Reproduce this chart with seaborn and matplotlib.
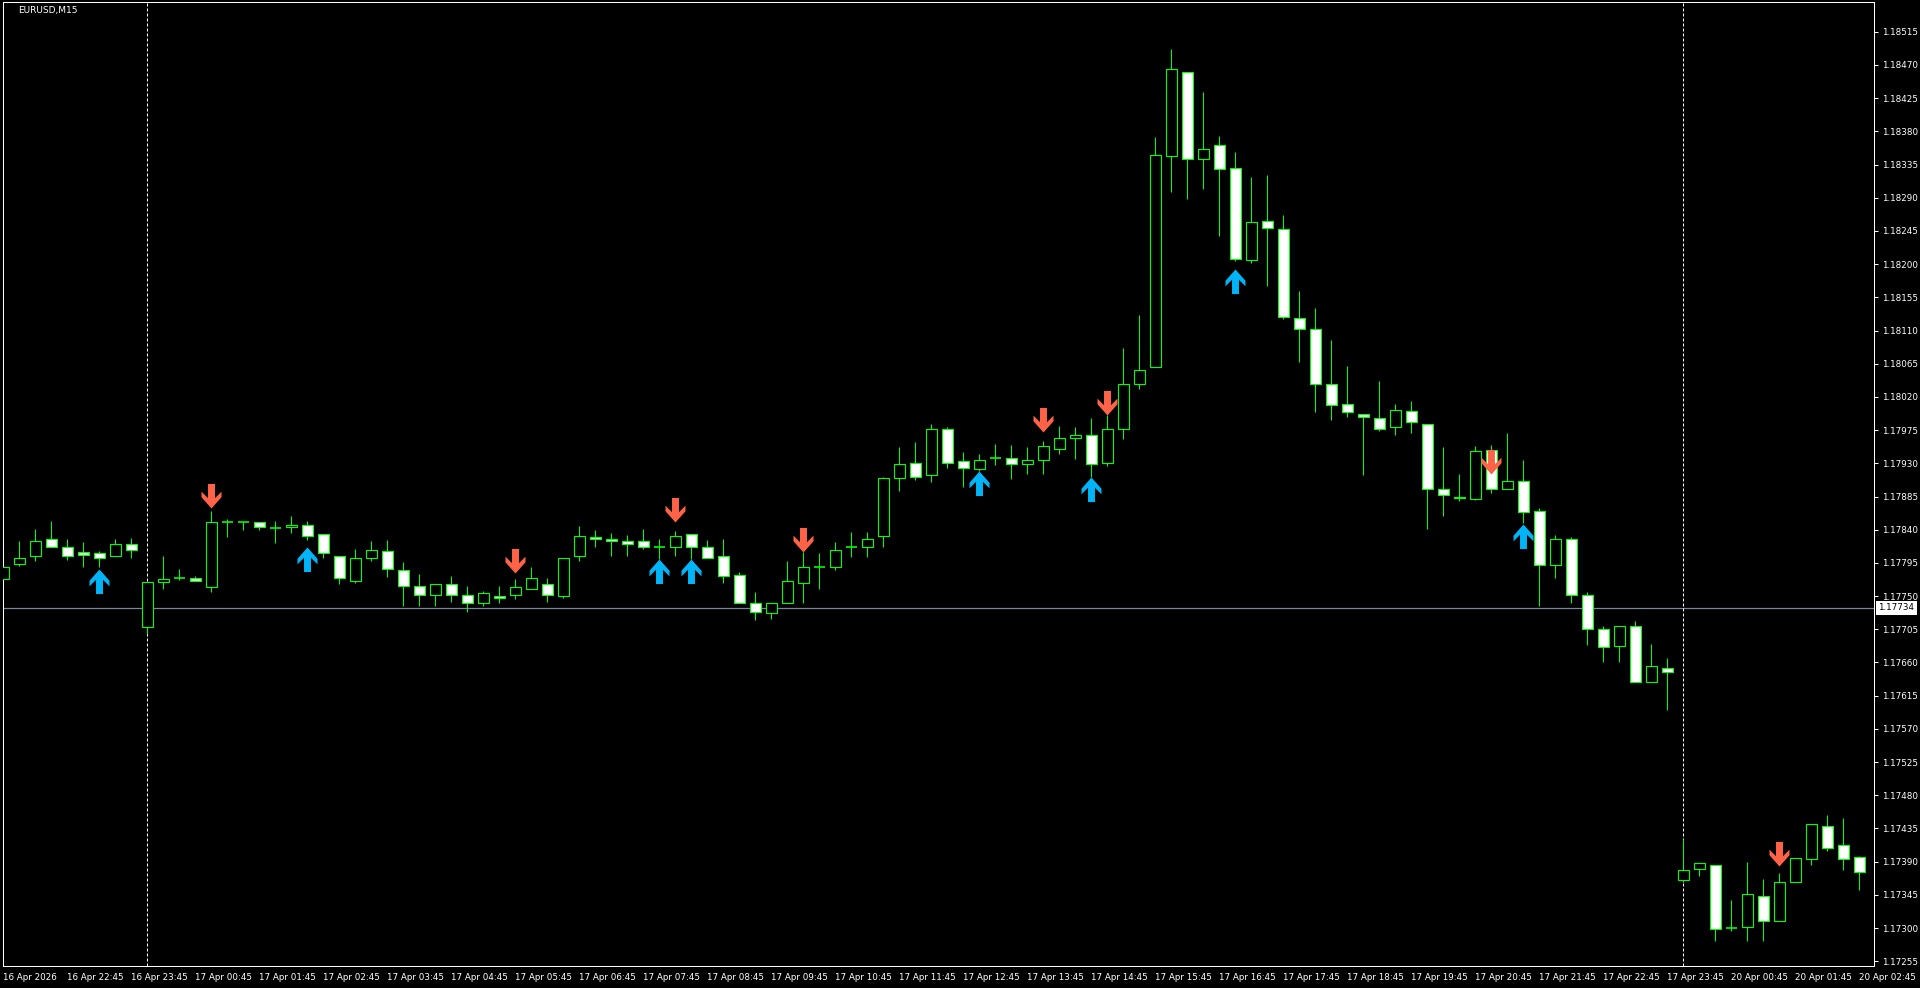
import numpy as np
import pandas as pd
import seaborn as sns
from matplotlib import pyplot as plt
from matplotlib.path import Path

# EURUSD M15 bars: 16 Apr 21:45 .. 17 Apr 23:45, then 20 Apr 00:00 .. 02:45
opens = [1.17773, 1.17793, 1.17804, 1.17828, 1.17817, 1.17810, 1.17809, 1.17804, 1.17820, 1.17708,
         1.17769, 1.17774, 1.17774, 1.17762, 1.17850, 1.17850, 1.17850, 1.17842, 1.17843, 1.17847,
         1.17834, 1.17805, 1.17770, 1.17801, 1.17811, 1.17786, 1.17763, 1.17752, 1.17767, 1.17751,
         1.17741, 1.17750, 1.17751, 1.17759, 1.17767, 1.17750, 1.17804, 1.17830, 1.17827, 1.17824,
         1.17824, 1.17817, 1.17816, 1.17834, 1.17817, 1.17804, 1.17778, 1.17740, 1.17727, 1.17741,
         1.17768, 1.17790, 1.17790, 1.17816, 1.17817, 1.17831, 1.17910, 1.17931, 1.17914, 1.17977,
         1.17933, 1.17922, 1.17937, 1.17937, 1.17929, 1.17935, 1.17950, 1.17964, 1.17969, 1.17930,
         1.17976, 1.18038, 1.18061, 1.18346, 1.18461, 1.18343, 1.18361, 1.18330, 1.18205, 1.18258,
         1.18247, 1.18127, 1.18112, 1.18038, 1.18010, 1.17997, 1.17992, 1.17979, 1.18001, 1.17983,
         1.17895, 1.17885, 1.17882, 1.17948, 1.17895, 1.17906, 1.17866, 1.17792, 1.17828, 1.17752,
         1.17705, 1.17682, 1.17710, 1.17634, 1.17652, 1.17365, 1.17380, 1.17386, 1.17300, 1.17302,
         1.17343, 1.17310, 1.17363, 1.17394, 1.17438, 1.17412, 1.17396]
highs = [1.17801, 1.17825, 1.17841, 1.17852, 1.17828, 1.17823, 1.17811, 1.17827, 1.17829, 1.17770,
         1.17804, 1.17787, 1.17777, 1.17865, 1.17854, 1.17850, 1.17850, 1.17852, 1.17858, 1.17852,
         1.17834, 1.17805, 1.17814, 1.17825, 1.17826, 1.17796, 1.17780, 1.17766, 1.17777, 1.17764,
         1.17757, 1.17764, 1.17773, 1.17789, 1.17774, 1.17802, 1.17845, 1.17840, 1.17835, 1.17833,
         1.17841, 1.17827, 1.17838, 1.17834, 1.17826, 1.17828, 1.17782, 1.17755, 1.17741, 1.17797,
         1.17810, 1.17808, 1.17823, 1.17837, 1.17837, 1.17911, 1.17952, 1.17959, 1.17983, 1.17979,
         1.17945, 1.17943, 1.17956, 1.17955, 1.17952, 1.17960, 1.17981, 1.17979, 1.17991, 1.17996,
         1.18086, 1.18131, 1.18372, 1.18492, 1.18461, 1.18433, 1.18374, 1.18352, 1.18318, 1.18321,
         1.18267, 1.18164, 1.18140, 1.18097, 1.18062, 1.17997, 1.18041, 1.18011, 1.18015, 1.17983,
         1.17952, 1.17916, 1.17954, 1.17955, 1.17971, 1.17935, 1.17869, 1.17833, 1.17830, 1.17755,
         1.17709, 1.17710, 1.17716, 1.17685, 1.17666, 1.17421, 1.17388, 1.17386, 1.17338, 1.17390,
         1.17366, 1.17375, 1.17395, 1.17441, 1.17453, 1.17449, 1.17397]
lows = [1.17765, 1.17791, 1.17797, 1.17817, 1.17799, 1.17790, 1.17790, 1.17804, 1.17801, 1.17698,
        1.17759, 1.17772, 1.17770, 1.17756, 1.17830, 1.17839, 1.17839, 1.17822, 1.17836, 1.17826,
        1.17801, 1.17767, 1.17768, 1.17797, 1.17776, 1.17736, 1.17737, 1.17737, 1.17742, 1.17728,
        1.17736, 1.17740, 1.17746, 1.17759, 1.17742, 1.17748, 1.17797, 1.17816, 1.17805, 1.17805,
        1.17814, 1.17800, 1.17805, 1.17800, 1.17802, 1.17768, 1.17741, 1.17717, 1.17719, 1.17740,
        1.17741, 1.17759, 1.17786, 1.17803, 1.17803, 1.17816, 1.17893, 1.17908, 1.17905, 1.17923,
        1.17898, 1.17919, 1.17928, 1.17909, 1.17916, 1.17916, 1.17943, 1.17936, 1.17912, 1.17926,
        1.17963, 1.18031, 1.18061, 1.18298, 1.18288, 1.18302, 1.18238, 1.18204, 1.18201, 1.18170,
        1.18125, 1.18067, 1.17999, 1.17989, 1.17993, 1.17914, 1.17974, 1.17969, 1.17971, 1.17841,
        1.17858, 1.17879, 1.17880, 1.17890, 1.17895, 1.17849, 1.17736, 1.17774, 1.17741, 1.17684,
        1.17661, 1.17661, 1.17633, 1.17634, 1.17595, 1.17362, 1.17370, 1.17283, 1.17296, 1.17282,
        1.17283, 1.17310, 1.17363, 1.17386, 1.17405, 1.17378, 1.17352]
closes = [1.17789, 1.17802, 1.17825, 1.17817, 1.17805, 1.17806, 1.17802, 1.17820, 1.17813, 1.17769,
          1.17773, 1.17774, 1.17770, 1.17850, 1.17850, 1.17850, 1.17844, 1.17842, 1.17846, 1.17832,
          1.17808, 1.17774, 1.17802, 1.17813, 1.17787, 1.17763, 1.17752, 1.17766, 1.17752, 1.17740,
          1.17754, 1.17747, 1.17762, 1.17774, 1.17751, 1.17801, 1.17831, 1.17827, 1.17824, 1.17821,
          1.17817, 1.17817, 1.17831, 1.17817, 1.17802, 1.17777, 1.17741, 1.17728, 1.17740, 1.17770,
          1.17790, 1.17790, 1.17813, 1.17816, 1.17827, 1.17910, 1.17929, 1.17912, 1.17976, 1.17931,
          1.17924, 1.17934, 1.17937, 1.17929, 1.17935, 1.17953, 1.17964, 1.17968, 1.17929, 1.17976,
          1.18037, 1.18057, 1.18348, 1.18464, 1.18342, 1.18356, 1.18329, 1.18207, 1.18257, 1.18249,
          1.18128, 1.18112, 1.18037, 1.18009, 1.18000, 1.17993, 1.17976, 1.18002, 1.17986, 1.17895,
          1.17887, 1.17883, 1.17947, 1.17895, 1.17906, 1.17864, 1.17792, 1.17828, 1.17751, 1.17705,
          1.17681, 1.17709, 1.17634, 1.17655, 1.17647, 1.17378, 1.17388, 1.17299, 1.17300, 1.17346,
          1.17309, 1.17363, 1.17395, 1.17441, 1.17408, 1.17393, 1.17376]

# indicator signals: bar index and arrow tip price
buy_bars = [6, 19, 41, 43, 61, 68, 77, 95]
buy_prices = [1.17787, 1.17817, 1.17800, 1.17800, 1.17919, 1.17912, 1.18193, 1.17848]
sell_bars = [13, 32, 42, 50, 65, 69, 93, 111]
sell_prices = [1.17869, 1.17781, 1.17851, 1.17810, 1.17973, 1.17996, 1.17915, 1.17384]

day_breaks = [9, 105]
line_price = 1.17734

time_labels = ["16 Apr 2026", "16 Apr 22:45", "16 Apr 23:45",
               "17 Apr 00:45", "17 Apr 01:45", "17 Apr 02:45", "17 Apr 03:45",
               "17 Apr 04:45", "17 Apr 05:45", "17 Apr 06:45", "17 Apr 07:45",
               "17 Apr 08:45", "17 Apr 09:45", "17 Apr 10:45", "17 Apr 11:45",
               "17 Apr 12:45", "17 Apr 13:45", "17 Apr 14:45", "17 Apr 15:45",
               "17 Apr 16:45", "17 Apr 17:45", "17 Apr 18:45", "17 Apr 19:45",
               "17 Apr 20:45", "17 Apr 21:45", "17 Apr 22:45", "17 Apr 23:45",
               "20 Apr 00:45", "20 Apr 01:45", "20 Apr 02:45"]
price_ticks = [1.17255, 1.17300, 1.17345, 1.17390, 1.17435, 1.17480, 1.17525, 1.17570,
               1.17615, 1.17660, 1.17705, 1.17750, 1.17795, 1.17840, 1.17885, 1.17930,
               1.17975, 1.18020, 1.18065, 1.18110, 1.18155, 1.18200, 1.18245, 1.18290,
               1.18335, 1.18380, 1.18425, 1.18470, 1.18515]

sns.set_theme(style="dark", rc={"axes.facecolor": "black", "figure.facecolor": "black",
                                "axes.edgecolor": "white", "axes.grid": False,
                                "axes.linewidth": 0.72})
plt.rcParams['font.family'] = ['DejaVu Sans']

df = pd.DataFrame({"o": opens, "h": highs, "l": lows, "c": closes})
df["x"] = np.arange(len(df))
bull = df[df.c > df.o]
bear = df[df.c < df.o]
doji = df[df.c == df.o]

GREEN = "#00FF00"
W = 0.64

fig = plt.figure(figsize=(19.2, 9.88), dpi=100)
ax = fig.add_axes([2.5 / 1920, 22 / 988, 1871 / 1920, 964 / 988])

ax.axhline(line_price, color="#778899", lw=0.9, zorder=1)
for b in day_breaks:
    ax.axvline(b, color="white", lw=0.72, ls=(0, (3, 2)), zorder=1)

ax.vlines(df.x, df.l, df.h, colors=GREEN, lw=0.75, zorder=2)
ax.bar(bull.x, bull.c - bull.o, bottom=bull.o, width=W, color="black",
       edgecolor=GREEN, linewidth=0.8, zorder=3)
ax.bar(bear.x, bear.o - bear.c, bottom=bear.c, width=W, color="white",
       edgecolor=GREEN, linewidth=0.8, zorder=3)
ax.hlines(doji.c, doji.x - W / 2, doji.x + W / 2, colors=GREEN, lw=1.2, zorder=3)

# arrow markers, tip sits at the signal price
down = [(-3.3, 23.3), (3.3, 23.3), (3.3, 9.8), (9.5, 16), (9.5, 10.7), (0, 0),
        (-9.5, 10.7), (-9.5, 16), (-3.3, 9.8), (-3.3, 23.3)]
codes = [Path.MOVETO] + [Path.LINETO] * 8 + [Path.CLOSEPOLY]
down_path = Path(down, codes)
up_path = Path([(x, -y) for x, y in down], codes)

sns.scatterplot(x=sell_bars, y=sell_prices, marker=down_path, s=1250,
                color="#FF6347", linewidth=0, ax=ax, zorder=5)
sns.scatterplot(x=buy_bars, y=buy_prices, marker=up_path, s=1250,
                color="#00B4F5", linewidth=0, ax=ax, zorder=5)

ax.set_xlim(-0.06, 116.875)
ax.set_ylim(1.172485, 1.185554)

ax.set_xticks(np.arange(0, len(df), 4))
ax.set_xticklabels(time_labels, ha="left")
ax.yaxis.tick_right()
ax.set_yticks(price_ticks)
ax.set_yticklabels(["%.5f" % p for p in price_ticks])
ax.tick_params(axis="both", colors="white", labelsize=6.3, length=3, width=0.72,
               direction="out")
ax.tick_params(axis="x", pad=2)
ax.tick_params(axis="y", pad=3)
ax.set_xlabel("")
ax.set_ylabel("")
for s in ax.spines.values():
    s.set_color("white")
    s.set_linewidth(0.72)

ax.text(1.0025, line_price, "%.5f" % line_price, transform=ax.get_yaxis_transform(),
        ha="left", va="center", fontsize=6.3, color="black", clip_on=False,
        bbox=dict(boxstyle="square,pad=0.3", fc="white", ec="none"))
fig.text(18 / 1920, 1 - 11 / 988, "EURUSD,M15", color="white", fontsize=6.5,
         va="center", ha="left")

fig.savefig("out.png", dpi=100, facecolor="black")
